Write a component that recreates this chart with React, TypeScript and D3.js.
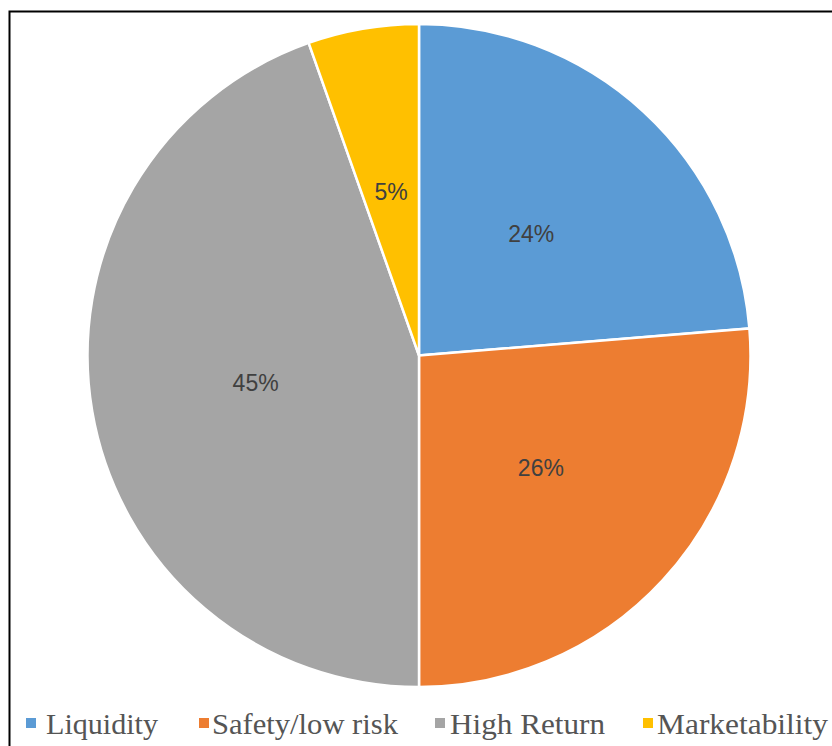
import React from "react";
import * as d3 from "d3";

const categories = ["Liquidity", "Safety/low risk", "High Return", "Marketability"];
const values = [23.7, 26.3, 44.6, 5.4];
const labels = ["24%", "26%", "45%", "5%"];
const colors = ["#5B9BD5", "#ED7D31", "#A5A5A5", "#FFC000"];

// legend layout (square x, text x, text width)
const legendSquareX = [26, 199, 435, 643];
const legendTextX = [46, 212, 450, 657];
const legendTextW = [112, 186, 155, 171];

export default function App() {
  const W = 832;
  const H = 746;
  const cx = 419;
  const cy = 355.5;
  const r = 331.5;

  const pie = d3
    .pie<number>()
    .value((d) => d)
    .sort(null)
    .startAngle(0)
    .endAngle(2 * Math.PI);
  const arcs = pie(values);
  const arc = d3.arc<d3.PieArcDatum<number>>().innerRadius(0).outerRadius(r);

  return (
    <svg
      width={W}
      height={H}
      style={{ position: "absolute", left: 0, top: 0, background: "#fff" }}
    >
      <rect x={0} y={0} width={W} height={H} fill="#fff" />
      <path d={`M9.5,${H} L9.5,11.5 L${W},11.5`} fill="none" stroke="#000" strokeWidth={2} />
      <g transform={`translate(${cx},${cy})`}>
        {arcs.map((a, i) => (
          <path key={i} d={arc(a) || ""} fill={colors[i]} stroke="#fff" strokeWidth={2.5} />
        ))}
        {arcs.map((a, i) => {
          const [x, y] = arc.centroid(a);
          return (
            <text
              key={"l" + i}
              x={x}
              y={y}
              textAnchor="middle"
              dominantBaseline="central"
              fontFamily="'Liberation Sans', Arial, sans-serif"
              fontSize={23}
              fill="#404040"
            >
              {labels[i]}
            </text>
          );
        })}
      </g>
      <g>
        {categories.map((c, i) => (
          <g key={c}>
            <rect x={legendSquareX[i]} y={718} width={10} height={10} fill={colors[i]} />
            <text
              x={legendTextX[i]}
              y={734}
              fontFamily="'Liberation Serif', 'Times New Roman', serif"
              fontSize={30}
              fill="#555555"
              textLength={legendTextW[i]}
              lengthAdjust="spacingAndGlyphs"
            >
              {c}
            </text>
          </g>
        ))}
      </g>
    </svg>
  );
}
